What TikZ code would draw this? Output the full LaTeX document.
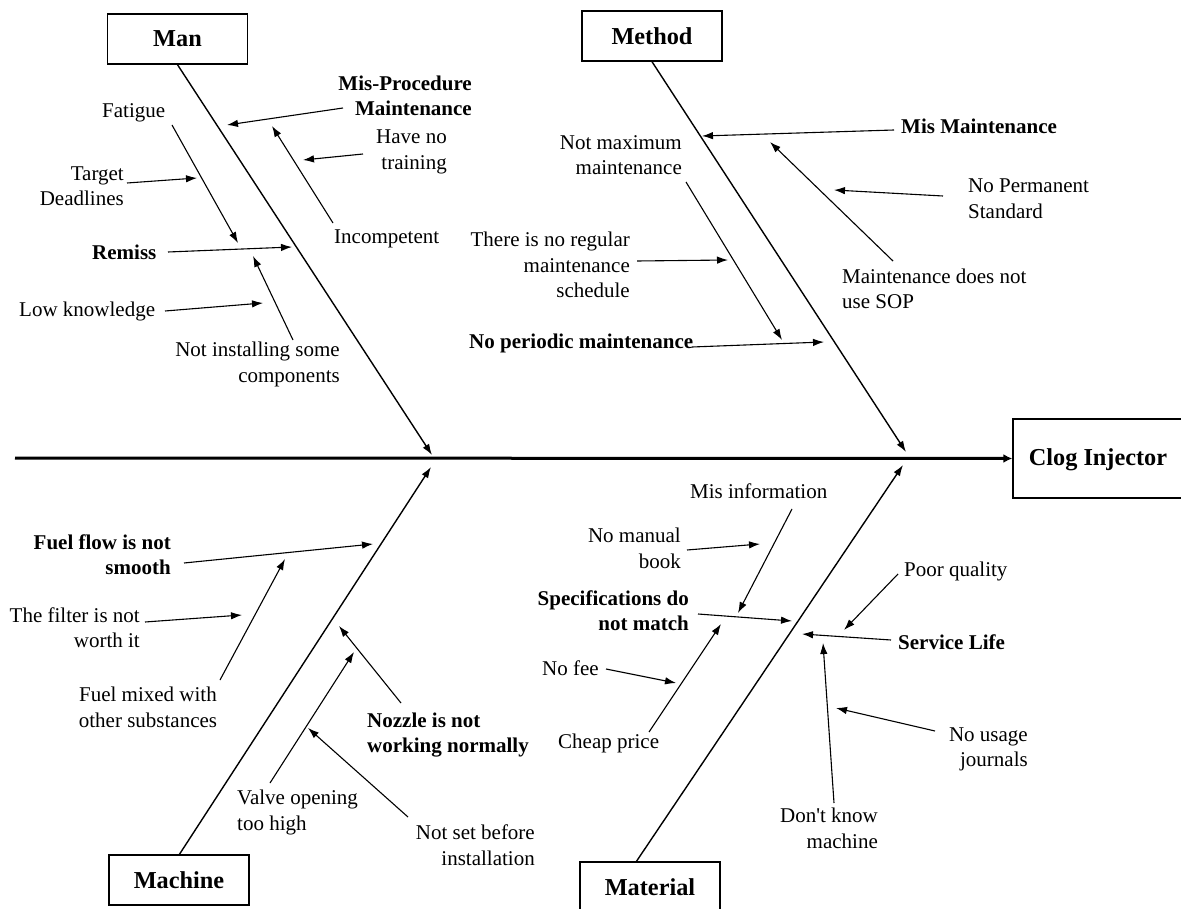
\documentclass[tikz,border=0pt]{standalone}
\usepackage{fontspec}
\setmainfont{Liberation Serif}
\usetikzlibrary{arrows.meta}
\begin{document}
\begin{tikzpicture}[x=1pt,y=-1pt,
  txt/.style={inner sep=0pt, font=\fontsize{21}{25.5}\selectfont},
  btxt/.style={inner sep=0pt, font=\fontsize{21}{25.5}\selectfont\bfseries},
  catbox/.style={draw, line width=1.4pt, minimum width=140pt, minimum height=50pt, inner sep=0pt, font=\fontsize{24.3}{28}\selectfont\bfseries},
  arr/.style={line width=1.1pt, -{Latex[length=11pt,width=7.5pt]}},
  bone/.style={line width=1.4pt, -{Latex[length=11pt,width=7.5pt]}},
  spine/.style={line width=3pt, -{Latex[length=9pt,width=9pt]}}]
\useasboundingbox (0,0) rectangle (1181,909);

% category boxes
\node[catbox] (man) at (177.5,39) {Man};
\node[catbox] (method) at (652,36) {Method};
\node[catbox] (machine) at (179,880) {Machine};
\node[catbox] (material) at (650,887) {Material};
\node[catbox, minimum width=200pt, minimum height=79pt] (clog) at (1113,458.5) {};
\node[btxt, font=\fontsize{24.3}{28}\selectfont\bfseries] (clogt) at (1098,460) {Clog Injector};

% spine
\coordinate (s0) at (15,458);
\draw[spine] (s0) -- (clog.west);

% bone ends
\coordinate (manT) at (432,455);
\coordinate (methT) at (906,452);
\coordinate (machT) at (431,467);
\coordinate (matT) at (903,465);
\coordinate (machS) at (179,855);
\coordinate (matS) at (636,862);
\draw[bone] (man.south) -- (manT);
\draw[bone] (method.south) -- (methT);
\draw[bone] (machS) -- (machT);
\draw[bone] (matS) -- (matT);

% ---------- Man ----------
\node[btxt, align=right, anchor=east] (misproc) at (472,96) {Mis-Procedure\\Maintenance};
\node[txt, align=right, anchor=east] (haveno) at (447,152) {Have no\\training};
\node[txt, anchor=west] (incomp) at (334,239) {Incompetent};
\node[txt, anchor=west] (fatigue) at (102,113) {Fatigue};
\node[txt, align=right, anchor=east] (target) at (124,186) {Target\\Deadlines};
\node[btxt, anchor=west] (remiss) at (92,252) {Remiss};
\node[txt, anchor=west] (lowk) at (19,311) {Low knowledge};
\node[txt, align=right, anchor=east] (notinst) at (340,364.5) {Not installing some\\components};

\coordinate (m1a) at (343,108); \coordinate (m1b) at (227,125);
\coordinate (m2a) at (363,154); \coordinate (m2b) at (303,160);
\coordinate (m3a) at (333,223); \coordinate (m3b) at (272,126);
\coordinate (m4a) at (172,125); \coordinate (m4b) at (238,243);
\coordinate (m5a) at (127,183); \coordinate (m5b) at (197,178);
\coordinate (m6a) at (168,252); \coordinate (m6b) at (292,247);
\coordinate (m7a) at (165,311); \coordinate (m7b) at (263,303);
\coordinate (m8a) at (293,340); \coordinate (m8b) at (253,256);
\foreach \i in {1,...,8} {\draw[arr] (m\i a) -- (m\i b);}

% ---------- Method ----------
\node[btxt, anchor=west] (mismaint) at (901,126) {Mis Maintenance};
\node[txt, align=right, anchor=east] (notmax) at (682,155) {Not maximum\\maintenance};
\node[txt, align=left, anchor=west] (noperm) at (968,198.5) {No Permanent\\Standard};
\node[txt, align=left, anchor=west] (sop) at (842,289) {Maintenance does not\\use SOP};
\node[txt, align=right, anchor=east] (noreg) at (630,265) {There is no regular\\maintenance\\schedule};
\node[btxt, anchor=west] (noper) at (469,343) {No periodic maintenance};

\coordinate (t1a) at (894,130); \coordinate (t1b) at (702,136);
\coordinate (t2a) at (686,182); \coordinate (t2b) at (782,340);
\coordinate (t3a) at (943,196); \coordinate (t3b) at (834,190);
\coordinate (t4a) at (893,261); \coordinate (t4b) at (770,142);
\coordinate (t5a) at (637,261); \coordinate (t5b) at (728,260);
\coordinate (t6a) at (692,347); \coordinate (t6b) at (824,342);
\foreach \i in {1,...,6} {\draw[arr] (t\i a) -- (t\i b);}

% ---------- Machine ----------
\node[btxt, align=right, anchor=east] (fuelflow) at (171,554.5) {Fuel flow is not\\smooth};
\node[txt, align=right, anchor=east] (filter) at (140,627.5) {The filter is not\\worth it};
\node[txt, align=center] (fuelmix) at (148,707.5) {Fuel mixed with\\other substances};
\node[btxt, align=left, anchor=west] (nozzle) at (367,735) {Nozzle is not\\working normally};
\node[txt, align=left, anchor=west] (valve) at (237,812.5) {Valve opening\\too high};
\node[txt, align=right, anchor=east] (notset) at (535,845) {Not set before\\installation};

\coordinate (c1a) at (184,563); \coordinate (c1b) at (373,544);
\coordinate (c2a) at (145,622); \coordinate (c2b) at (242,615);
\coordinate (c3a) at (220,680); \coordinate (c3b) at (285,559);
\coordinate (c4a) at (401,703); \coordinate (c4b) at (339,626);
\coordinate (c5a) at (270,783); \coordinate (c5b) at (354,652);
\coordinate (c6a) at (408,817); \coordinate (c6b) at (308,728);
\foreach \i in {1,...,6} {\draw[arr] (c\i a) -- (c\i b);}

% ---------- Material ----------
\node[txt, anchor=west] (misinfo) at (690,491) {Mis information};
\node[txt, align=right, anchor=east] (nomanual) at (681,548.5) {No manual\\book};
\node[btxt, align=right, anchor=east] (specs) at (689,610.5) {Specifications do\\not match};
\node[txt, anchor=west] (nofee) at (542,668) {No fee};
\node[txt, anchor=west] (cheap) at (558,743) {Cheap price};
\node[txt, anchor=west] (poor) at (904,571) {Poor quality};
\node[btxt, anchor=west] (service) at (898,642) {Service Life};
\node[txt, align=right, anchor=east] (nousage) at (1028,749.5) {No usage\\journals};
\node[txt, align=right, anchor=east] (dontknow) at (878,828.5) {Don\textquotesingle t know\\machine};

\coordinate (r1a) at (792,509); \coordinate (r1b) at (738,613);
\coordinate (r2a) at (687,550); \coordinate (r2b) at (760,544);
\coordinate (r3a) at (698,614); \coordinate (r3b) at (792,621);
\coordinate (r4a) at (606,669); \coordinate (r4b) at (676,683);
\coordinate (r5a) at (649,732); \coordinate (r5b) at (721,624);
\coordinate (r6a) at (898,574); \coordinate (r6b) at (844,630);
\coordinate (r7a) at (891,640); \coordinate (r7b) at (802,634);
\coordinate (r8a) at (935,731); \coordinate (r8b) at (836,708);
\coordinate (r9a) at (834,803); \coordinate (r9b) at (823,643);
\foreach \i in {1,...,9} {\draw[arr] (r\i a) -- (r\i b);}
\end{tikzpicture}
\end{document}
